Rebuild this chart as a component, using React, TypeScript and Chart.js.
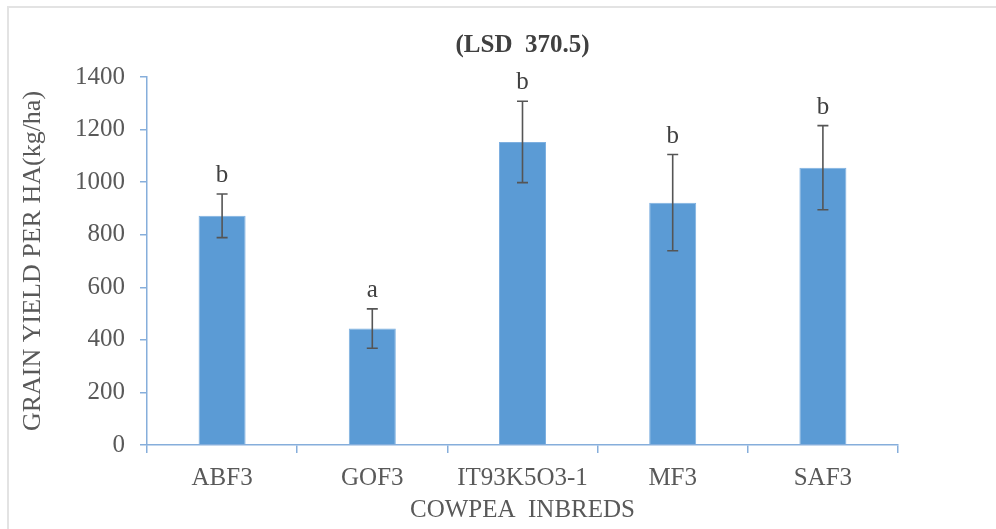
import React, { useEffect, useRef } from "react";
import { Chart, registerables } from "chart.js";

Chart.register(...registerables);

const categories = ["ABF3", "GOF3", "IT93K5O3-1", "MF3", "SAF3"];
const yieldValues = [872, 443, 1153, 922, 1055];
const errorValues = [83, 75, 155, 183, 160];
const letters = ["b", "a", "b", "b", "b"];
const yTicks = [0, 200, 400, 600, 800, 1000, 1200, 1400];

const FONT = "'Liberation Serif', 'Times New Roman', serif";
const AXIS_BLUE = "#86aedb";

const errorPlugin = {
  id: "errorBarsLetters",
  afterDatasetsDraw(chart: any) {
    const { ctx, scales } = chart;
    const x = scales.x;
    const y = scales.y;
    ctx.save();
    yieldValues.forEach((v, i) => {
      const px = x.getPixelForValue(i);
      const top = y.getPixelForValue(v + errorValues[i]);
      const bot = y.getPixelForValue(v - errorValues[i]);
      ctx.strokeStyle = "#555555";
      ctx.lineWidth = 1.6;
      ctx.beginPath();
      ctx.moveTo(px, top);
      ctx.lineTo(px, bot);
      ctx.moveTo(px - 5.5, top);
      ctx.lineTo(px + 5.5, top);
      ctx.moveTo(px - 5.5, bot);
      ctx.lineTo(px + 5.5, bot);
      ctx.stroke();
      ctx.fillStyle = "#404040";
      ctx.font = `25px ${FONT}`;
      ctx.textAlign = "center";
      ctx.textBaseline = "alphabetic";
      ctx.fillText(letters[i], px, top - 12);
    });
    ctx.restore();
  },
};

export default function App() {
  const ref = useRef<HTMLCanvasElement | null>(null);

  useEffect(() => {
    if (!ref.current) return;
    const chart = new Chart(ref.current, {
      type: "bar",
      data: {
        labels: categories,
        datasets: [
          {
            data: yieldValues,
            backgroundColor: "#5b9bd5",
            borderColor: "#7eb0e0",
            borderWidth: 1,
            barPercentage: 0.313,
            categoryPercentage: 1,
          },
        ],
      },
      options: {
        animation: false,
        responsive: false,
        maintainAspectRatio: false,
        devicePixelRatio: 1,
        layout: { padding: { left: 0, right: 98, top: 0, bottom: 0 } },
        plugins: {
          legend: { display: false },
          tooltip: { enabled: false },
          title: {
            display: true,
            text: "(LSD  370.5)",
            fullSize: false,
            color: "#404040",
            font: { family: FONT, size: 25, weight: "bold" },
            padding: { top: 31, bottom: 16 },
          },
        },
        scales: {
          x: {
            grid: {
              display: true,
              drawOnChartArea: false,
              drawTicks: true,
              tickLength: 8,
              color: AXIS_BLUE,
              lineWidth: 1.5,
            },
            border: { display: true, color: AXIS_BLUE, width: 1.5 },
            ticks: {
              color: "#595959",
              font: { family: FONT, size: 25 },
              padding: 10,
              maxRotation: 0,
              autoSkip: false,
            },
            title: {
              display: true,
              text: "COWPEA  INBREDS",
              color: "#595959",
              font: { family: FONT, size: 25 },
              padding: { top: 0, bottom: 4 },
            },
            afterFit: (s: any) => {
              s.height = 84;
            },
          },
          y: {
            min: 0,
            max: 1400,
            afterBuildTicks: (s: any) => {
              s.ticks = yTicks.map((v) => ({ value: v }));
            },
            grid: {
              display: true,
              drawOnChartArea: false,
              drawTicks: true,
              tickLength: 7,
              color: AXIS_BLUE,
              lineWidth: 1.5,
            },
            border: { display: true, color: AXIS_BLUE, width: 1.5 },
            ticks: {
              color: "#595959",
              font: { family: FONT, size: 25 },
              padding: 15,
              callback: (v: any) => String(v),
            },
            title: {
              display: true,
              text: "GRAIN YIELD PER HA(kg/ha)",
              color: "#595959",
              font: { family: FONT, size: 26 },
              padding: { top: 18, bottom: 0 },
            },
            afterFit: (s: any) => {
              s.width = 147;
            },
          },
        },
      },
      plugins: [errorPlugin],
    });
    return () => chart.destroy();
  }, []);

  return (
    <div
      style={{
        position: "fixed",
        left: 0,
        top: 0,
        width: 996,
        height: 529,
        background: "#fff",
        overflow: "hidden",
      }}
    >
      <div
        style={{
          position: "absolute",
          left: 7,
          top: 6,
          right: -10,
          bottom: -10,
          borderLeft: "2px solid #e3e3e3",
          borderTop: "2px solid #e3e3e3",
        }}
      />
      <canvas
        ref={ref}
        width={996}
        height={529}
        style={{ position: "absolute", left: 0, top: 0, width: 996, height: 529 }}
      />
    </div>
  );
}
